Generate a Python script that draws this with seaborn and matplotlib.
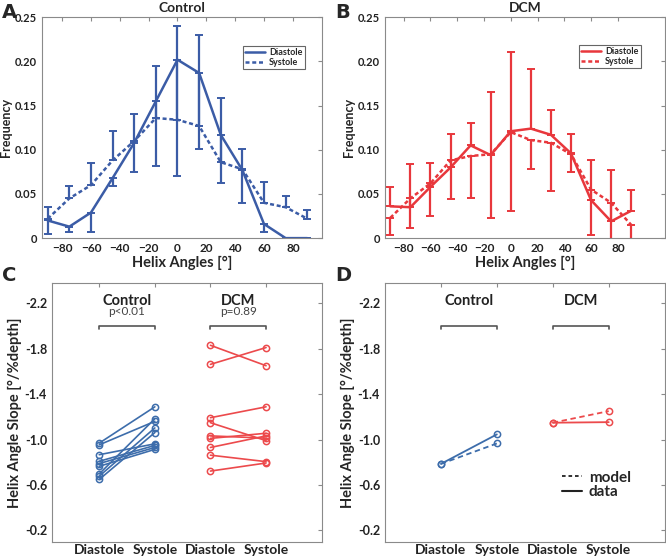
import numpy as np
import pandas as pd
import matplotlib
matplotlib.use('Agg')
import matplotlib.pyplot as plt
from matplotlib.lines import Line2D
import seaborn as sns

sns.set_style('white')
plt.rcParams['font.family'] = ['Lato', 'DejaVu Sans']
plt.rcParams['font.weight'] = 'bold'

blue = '#3b5ca6'
red = '#e8373c'
blue_c = '#3d6dab'
red_c = '#ec4a4c'
grey = '#555555'

# --- panels A/B: helix angle histograms ---
angles = [-90, -75, -60, -45, -30, -15, 0, 15, 30, 45, 60, 75, 90]

ctrl_dia = [0.020, 0.013, 0.029, 0.068, 0.108, 0.155, 0.202, 0.187, 0.117, 0.077, 0.016, 0.0, 0.0]
ctrl_sys = [0.022, 0.045, 0.060, 0.088, 0.110, 0.136, 0.134, 0.127, 0.086, 0.078, 0.040, 0.035, 0.022]
ctrl_sys_upper = [0.035, 0.059, 0.085, 0.121, 0.140, 0.195, 0.240, 0.230, 0.159, 0.101, 0.063, 0.048, 0.032]
ctrl_dia_lower = [0.005, 0.007, 0.007, 0.059, 0.075, 0.082, 0.070, 0.101, 0.062, 0.040, 0.007, 0.0, 0.0]

dcm_dia = [0.036, 0.035, 0.058, 0.080, 0.105, 0.094, 0.121, 0.124, 0.117, 0.096, 0.043, 0.019, 0.031]
dcm_sys = [0.023, 0.045, 0.062, 0.088, 0.093, 0.095, 0.120, 0.111, 0.108, 0.095, 0.055, 0.040, 0.015]
dcm_dia_upper = [0.058, 0.084, 0.085, 0.118, 0.130, 0.165, 0.211, 0.191, 0.145, 0.118, 0.088, 0.077, 0.054]
dcm_sys_lower = [0.004, 0.012, 0.025, 0.044, 0.045, 0.023, 0.031, 0.078, 0.053, 0.075, 0.004, -0.01, -0.01]

# --- panel C: individual slopes ---
ctrl_slope_dia = [-0.968, -0.953, -0.866, -0.808, -0.788, -0.764, -0.697, -0.677, -0.648]
ctrl_slope_sys = [-1.288, -1.160, -0.962, -0.948, -0.930, -0.913, -1.183, -1.102, -1.061]
dcm_slope_dia = [-1.830, -1.662, -1.192, -1.148, -1.032, -1.010, -0.930, -0.862, -0.722]
dcm_slope_sys = [-1.650, -1.810, -1.288, -0.990, -1.012, -1.055, -1.032, -0.805, -0.793]

# --- panel D: model vs data ---
ctrl_data = [-0.785, -1.045]
ctrl_model = [-0.785, -0.965]
dcm_data = [-1.148, -1.153]
dcm_model = [-1.148, -1.250]

phase_labels = ['Diastole', 'Systole', 'Diastole', 'Systole']
p_values = ['p<0.01', 'p=0.89']

fig = plt.figure(figsize=(6.66, 5.59), dpi=100)
axA = fig.add_axes([0.063, 0.574, 0.420, 0.395])
axB = fig.add_axes([0.578, 0.574, 0.420, 0.395])
axC = fig.add_axes([0.078, 0.031, 0.405, 0.463])
axD = fig.add_axes([0.578, 0.031, 0.420, 0.463])


def style(ax):
    for s in ax.spines.values():
        s.set_color('#8a8a8a')
        s.set_linewidth(0.8)
    ax.tick_params(direction='in', top=True, right=True, length=3,
                   color='#8a8a8a', labelcolor='#222222')


dots = (0, (1.6, 1.1))


def hist_panel(ax, dia, sys_, err_y, lo, hi, color, title, xmax, legpos):
    sns.lineplot(x=angles, y=dia, color=color, lw=1.8, ax=ax, legend=False)
    sns.lineplot(x=angles, y=sys_, color=color, lw=1.8, ls=dots, ax=ax, legend=False)
    ax.errorbar(angles, err_y, yerr=[lo, hi], fmt='none', ecolor=color,
                elinewidth=1.6, capsize=2.8, capthick=1.4)
    ax.set_xlim(-94, xmax)
    ax.set_ylim(0, 0.25)
    ax.set_xticks(range(-80, 81, 20))
    ax.set_xticklabels([str(v).replace('-', '\u2212') for v in range(-80, 81, 20)], fontsize=8.5)
    ax.set_yticks([0, 0.05, 0.10, 0.15, 0.20, 0.25])
    ax.set_yticklabels(['0', '0.05', '0.10', '0.15', '0.20', '0.25'], fontsize=8)
    ax.set_xlabel('Helix Angles [°]', fontsize=10.5, fontweight='bold', labelpad=1)
    ax.set_ylabel('Frequency', fontsize=9, fontweight='bold', labelpad=2)
    ax.set_title(title, fontsize=10, fontweight='bold', pad=4)
    h = [Line2D([], [], color=color, lw=1.8), Line2D([], [], color=color, lw=1.8, ls=dots)]
    leg = ax.legend(h, ['Diastole', 'Systole'], loc='upper right', bbox_to_anchor=legpos,
                    fontsize=6.5, handlelength=2.2, handletextpad=0.4, labelspacing=0.05,
                    borderpad=0.25, fancybox=False, framealpha=1)
    leg.get_frame().set_edgecolor('#666666')
    leg.get_frame().set_linewidth(0.8)
    style(ax)


# panel A: systole upper bars, diastole lower bars
cs, cd = np.array(ctrl_sys), np.array(ctrl_dia)
hist_panel(axA, ctrl_dia, ctrl_sys, cs, np.zeros(13), np.array(ctrl_sys_upper) - cs,
           blue, 'Control', 100, (0.955, 0.89))
axA.errorbar(angles, cd, yerr=[cd - np.array(ctrl_dia_lower), np.zeros(13)], fmt='none',
             ecolor=blue, elinewidth=1.6, capsize=2.8, capthick=1.4)

# panel B: diastole upper bars, systole lower bars
dd, ds = np.array(dcm_dia), np.array(dcm_sys)
hist_panel(axB, dcm_dia, dcm_sys, dd, np.zeros(13), np.array(dcm_dia_upper) - dd,
           red, 'DCM', 115, (0.93, 0.895))
axB.errorbar(angles, ds, yerr=[ds - np.array(dcm_sys_lower), np.zeros(13)], fmt='none',
             ecolor=red, elinewidth=1.6, capsize=2.8, capthick=1.4)


def slope_axes(ax, xmin):
    ax.set_xlim(xmin, 5)
    ax.set_ylim(-0.1, -2.38)
    ax.set_yticks([-2.2, -1.8, -1.4, -1.0, -0.6, -0.2])
    ax.set_yticklabels(['-2.2', '-1.8', '-1.4', '-1.0', '-0.6', '-0.2'], fontsize=9)
    ax.set_xticks([1, 2, 3, 4])
    ax.set_xticklabels(phase_labels, fontsize=10)
    ax.set_xlabel('')
    ax.set_ylabel('Helix Angle Slope [°/%depth]', fontsize=10.5, fontweight='bold', labelpad=2)
    for x0, name in [(1, 'Control'), (3, 'DCM')]:
        ax.plot([x0, x0, x0 + 1, x0 + 1], [-1.97, -2.0, -2.0, -1.97], color=grey, lw=1.2)
        ax.text(x0 + 0.5, -2.22, name, ha='center', va='center', fontsize=10.5,
                fontweight='bold', color='#222222')
    style(ax)
    ax.tick_params(axis='x', pad=2)


# panel C
rows = []
for i, (a, b) in enumerate(zip(ctrl_slope_dia, ctrl_slope_sys)):
    rows += [('Control', i, 1, a), ('Control', i, 2, b)]
for i, (a, b) in enumerate(zip(dcm_slope_dia, dcm_slope_sys)):
    rows += [('DCM', i, 3, a), ('DCM', i, 4, b)]
dfc = pd.DataFrame(rows, columns=['group', 'subject', 'pos', 'slope'])
sns.lineplot(data=dfc, x='pos', y='slope', hue='group', units='subject', estimator=None,
             palette={'Control': blue_c, 'DCM': red_c}, lw=1.2, marker='o', ms=4.5,
             mfc='none', mew=1.1, legend=False, ax=axC)
for ln in axC.lines:
    ln.set_markeredgecolor(ln.get_color())
slope_axes(axC, 0.15)
for x0, p in zip([1, 3], p_values):
    axC.text(x0 + 0.5, -2.075, p, ha='center', va='bottom', fontsize=8.5,
             fontweight='normal', color='#444444')

# panel D
dfd = pd.DataFrame({
    'pos': [1, 2, 1, 2, 3, 4, 3, 4],
    'slope': ctrl_data + ctrl_model + dcm_data + dcm_model,
    'line': ['c_data'] * 2 + ['c_model'] * 2 + ['d_data'] * 2 + ['d_model'] * 2,
    'kind': ['data'] * 2 + ['model'] * 2 + ['data'] * 2 + ['model'] * 2,
})
sns.lineplot(data=dfd, x='pos', y='slope', hue='line', style='kind',
             palette={'c_data': blue_c, 'c_model': blue_c, 'd_data': red_c, 'd_model': red_c},
             dashes={'data': '', 'model': (3, 2)}, markers={'data': 'o', 'model': 'o'},
             lw=1.3, ms=4.5, mfc='none', mew=1.1, legend=False, ax=axD)
for ln in axD.lines:
    ln.set_markeredgecolor(ln.get_color())
    ln.set_markerfacecolor('none')
slope_axes(axD, 0.0)
h = [Line2D([], [], color='#222222', lw=1.3, ls=(0, (2, 1.6))), Line2D([], [], color='#222222', lw=1.5)]
axD.legend(h, ['model', 'data'], loc='upper left', bbox_to_anchor=(0.6, 0.31), frameon=False,
           fontsize=11, handlelength=1.3, handletextpad=0.45, labelspacing=0.05, borderpad=0.1)

for x, y, letter in [(0.003, 0.995, 'A'), (0.503, 0.995, 'B'), (0.003, 0.525, 'C'), (0.503, 0.525, 'D')]:
    fig.text(x, y, letter, fontsize=14, fontweight='bold', va='top', ha='left',
             family=['DejaVu Sans'])

fig.savefig('out.png', dpi=100)
